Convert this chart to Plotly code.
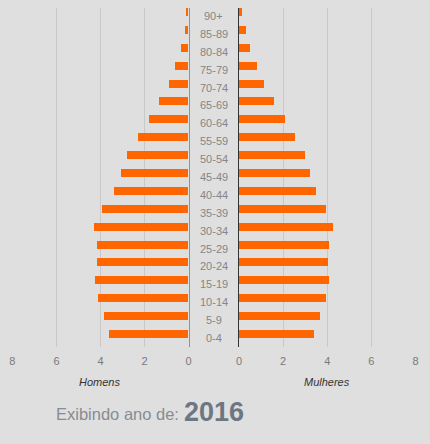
import plotly.graph_objects as go

ages = ["0-4", "5-9", "10-14", "15-19", "20-24", "25-29", "30-34", "35-39",
        "40-44", "45-49", "50-54", "55-59", "60-64", "65-69", "70-74",
        "75-79", "80-84", "85-89", "90+"]
homens = [3.59, 3.82, 4.08, 4.22, 4.16, 4.13, 4.26, 3.91, 3.37, 3.06,
          2.79, 2.30, 1.80, 1.31, 0.86, 0.59, 0.34, 0.16, 0.12]
mulheres = [3.42, 3.69, 3.96, 4.09, 4.05, 4.09, 4.27, 3.96, 3.47, 3.20,
            2.98, 2.53, 2.08, 1.59, 1.15, 0.83, 0.51, 0.30, 0.15]
x_ticks = [0, 2, 4, 6, 8]
ano = "2016"

BG = "#dfdfdf"
BAR = "#ff6600"
GRID = "#c9c9c9"
TICK = "#7a7a7a"

fig = go.Figure()
fig.add_trace(go.Bar(y=ages, x=homens, orientation="h", marker_color=BAR,
                     marker_line_width=0, width=0.45, xaxis="x", yaxis="y",
                     showlegend=False, hoverinfo="skip"))
fig.add_trace(go.Bar(y=ages, x=mulheres, orientation="h", marker_color=BAR,
                     marker_line_width=0, width=0.45, xaxis="x2", yaxis="y2",
                     showlegend=False, hoverinfo="skip"))

W, H = 430, 444
xl = [9.5 / W, 188.3 / W]
xr = [239.3 / W, 418.3 / W]
yd = [1 - 347 / H, 1 - 8 / H]
yrange = [-0.727, 18.224]

axis_common = dict(tickvals=x_ticks, showgrid=True, gridcolor=GRID, gridwidth=1,
                   zeroline=False, showline=False,
                   tickfont=dict(family="Liberation Sans, Arial", size=11, color=TICK),
                   ticks="outside", ticklen=4, tickcolor="rgba(0,0,0,0)",
                   fixedrange=True)

fig.update_layout(
    width=W, height=H,
    margin=dict(l=0, r=0, t=0, b=0),
    paper_bgcolor=BG, plot_bgcolor=BG,
    bargap=0,
    xaxis=dict(domain=xl, range=[8, 0], anchor="y", **axis_common),
    xaxis2=dict(domain=xr, range=[0, 8], anchor="y2", **axis_common),
    yaxis=dict(domain=yd, anchor="x", side="right", categoryorder="array",
               categoryarray=ages, range=yrange, showticklabels=False,
               showgrid=False, zeroline=False, showline=True, fixedrange=True,
               linecolor="#8795a3", linewidth=1),
    yaxis2=dict(domain=yd, anchor="x2", side="left", categoryorder="array",
                categoryarray=ages, range=yrange, showticklabels=False,
                showgrid=False, zeroline=False, showline=True, fixedrange=True,
                linecolor="#333333", linewidth=1),
)

for a in ages:
    fig.add_annotation(x=213.5 / W, xref="paper", y=a, yref="y", text=a,
                       showarrow=False, xanchor="center", yanchor="middle", yshift=-4,
                       font=dict(family="Liberation Sans, Arial", size=11, color="#868686"))

fig.add_annotation(x=98 / W, y=1 - 382 / H, xref="paper", yref="paper",
                   text="<i>Homens</i>", showarrow=False, xanchor="center", yanchor="middle",
                   font=dict(family="Liberation Sans, Arial", size=11, color="#333333"))
fig.add_annotation(x=329 / W, y=1 - 382 / H, xref="paper", yref="paper",
                   text="<i>Mulheres</i>", showarrow=False, xanchor="center", yanchor="middle",
                   font=dict(family="Liberation Sans, Arial", size=11, color="#333333"))

fig.add_annotation(x=181 / W, y=1 - 414 / H, xref="paper", yref="paper",
                   text="Exibindo ano de:", showarrow=False, xanchor="right", yanchor="middle",
                   font=dict(family="Liberation Sans, Arial", size=16.5, color="#878c93"))
fig.add_annotation(x=182 / W, y=1 - 412 / H, xref="paper", yref="paper",
                   text="<b>" + ano + "</b>", showarrow=False, xanchor="left", yanchor="middle",
                   font=dict(family="Liberation Sans, Arial", size=27, color="#6d7682"))

fig.write_html("out.html", config={"displayModeBar": False},
               post_script="document.body.style.margin='0';"
                           "document.body.style.background='" + BG + "';")
